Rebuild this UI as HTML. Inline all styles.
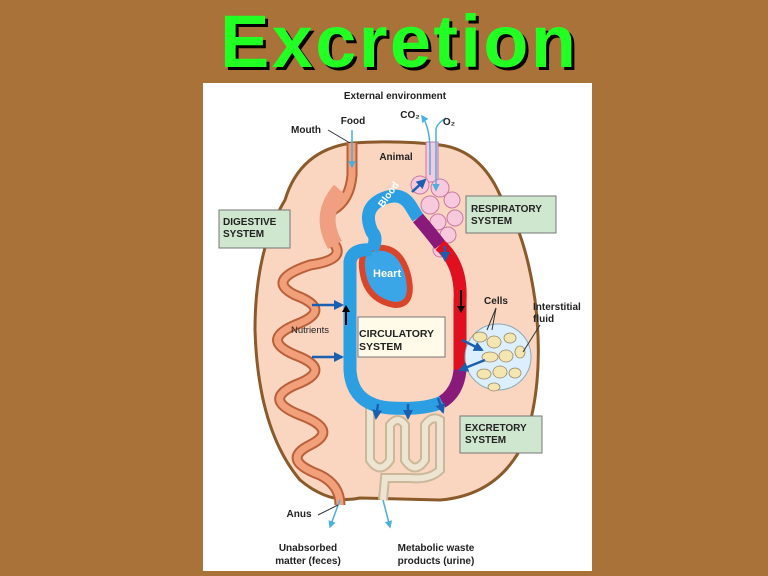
<!DOCTYPE html>
<html><head><meta charset="utf-8"><style>
html,body{margin:0;padding:0;width:768px;height:576px;overflow:hidden;background:#a87238;}
svg{position:absolute;left:0;top:0;}
text{font-family:"Liberation Sans",sans-serif;font-weight:bold;fill:#222;}
</style></head><body>
<svg width="768" height="576" viewBox="0 0 768 576">
<defs><marker id="a" viewBox="0 0 10 10" refX="8" refY="5" markerWidth="4" markerHeight="4" orient="auto"><path d="M0,0 L10,5 L0,10Z" fill="#1a5fb0"/></marker>
<marker id="b" viewBox="0 0 10 10" refX="8" refY="5" markerWidth="5" markerHeight="5" orient="auto"><path d="M0,0 L10,5 L0,10Z" fill="#4ab0e0"/></marker></defs>
<text x="401" y="70" font-size="74" text-anchor="middle" style="fill:#000" textLength="356">Excretion</text>
<text x="398" y="67" font-size="74" text-anchor="middle" style="fill:#22ff22" textLength="356">Excretion</text>
<rect x="203" y="83" width="389" height="488" fill="#fff"/>
<!-- body -->
<path d="M352,143 Q300,150 285,200 Q255,250 255,330 Q258,430 300,480 Q330,505 360,498 L440,500 Q500,495 525,440 Q545,380 535,300 Q525,230 500,195 Q480,150 440,145 Q400,140 352,143 Z" fill="#fad6c0" stroke="#8b5a2b" stroke-width="3"/>
<!-- lungs -->
<g fill="#f8c8dc" stroke="#c87aa0" stroke-width="1">
<rect x="426" y="142" width="12" height="40"/>
<circle cx="420" cy="185" r="9"/><circle cx="440" cy="188" r="9"/><circle cx="452" cy="200" r="8"/><circle cx="455" cy="218" r="8"/><circle cx="448" cy="235" r="8"/><circle cx="440" cy="250" r="7"/><circle cx="430" cy="205" r="9"/><circle cx="438" cy="222" r="8"/>
</g>
<!-- digestive -->
<path d="M352,143 L352,175 Q350,200 333,210 Q318,225 335,245 Q345,260 310,265 Q265,280 295,295 Q335,310 295,325 Q260,340 295,355 Q335,370 295,385 Q262,400 300,415 Q340,430 310,445 Q280,460 320,475 Q340,485 340,505" fill="none" stroke="#b9603a" stroke-width="11"/>
<path d="M352,143 L352,175 Q350,200 333,210 Q318,225 335,245 Q345,260 310,265 Q265,280 295,295 Q335,310 295,325 Q260,340 295,355 Q335,370 295,385 Q262,400 300,415 Q340,430 310,445 Q280,460 320,475 Q340,485 340,505" fill="none" stroke="#f2a07a" stroke-width="7"/>
<path d="M340,190 Q318,215 335,245" stroke="#f0a080" stroke-width="16" fill="none"/>
<!-- excretory tubules -->
<path d="M370,408 L370,460 Q380,475 390,460 L390,425 Q398,415 405,425 L405,460 Q415,475 425,460 L425,425 Q432,415 440,420 L440,470 Q430,480 410,478 L385,478 L383,500" fill="none" stroke="#c9b89a" stroke-width="10"/>
<path d="M370,408 L370,460 Q380,475 390,460 L390,425 Q398,415 405,425 L405,460 Q415,475 425,460 L425,425 Q432,415 440,420 L440,470 Q430,480 410,478 L385,478 L383,500" fill="none" stroke="#eee4d2" stroke-width="6"/>
<!-- heart -->
<path d="M362,268 Q360,250 375,248 Q400,245 408,275 Q415,305 395,305 Q365,300 362,268 Z" fill="#3aa6e8" stroke="#d9452a" stroke-width="6"/>
<!-- circulatory loop -->
<g fill="none" stroke-width="13" stroke-linecap="butt">
<path d="M372,250 Q378,238 372,232 Q362,210 380,200 Q400,190 410,205 L418,218" stroke="#2c9fe3"/>
<path d="M418,218 Q430,232 440,245" stroke="#8a1a7a"/>
<path d="M440,245 Q462,265 460,300 L460,370" stroke="#e01020"/>
<path d="M460,370 Q458,392 442,402" stroke="#8a1a7a"/>
<path d="M442,402 Q425,410 390,408 Q352,405 350,370 L350,262 Q352,248 372,250" stroke="#2c9fe3"/>
</g>
<!-- cells -->
<circle cx="498" cy="357" r="33" fill="#dcefff" stroke="#8ab" stroke-width="1"/>
<g fill="#f4e6b0" stroke="#998866" stroke-width="0.8">
<ellipse cx="480" cy="337" rx="7" ry="5"/><ellipse cx="494" cy="342" rx="7" ry="6"/><ellipse cx="510" cy="338" rx="6" ry="5"/><ellipse cx="490" cy="357" rx="8" ry="5"/><ellipse cx="506" cy="356" rx="7" ry="6"/><ellipse cx="520" cy="352" rx="5" ry="6"/><ellipse cx="484" cy="374" rx="7" ry="5"/><ellipse cx="500" cy="372" rx="7" ry="6"/><ellipse cx="515" cy="373" rx="6" ry="5"/><ellipse cx="494" cy="387" rx="6" ry="4"/>
</g>
<!-- arrows -->
<g stroke="#1a5fb0" stroke-width="2.5" fill="none" marker-end="url(#a)">
<path d="M312,305 L342,305"/><path d="M312,357 L342,357"/><path d="M412,192 L425,180"/><path d="M445,246 L445,260"/><path d="M462,340 L482,350"/><path d="M485,360 L460,370"/><path d="M378,404 L376,418"/><path d="M408,404 L408,418"/><path d="M438,398 L443,412"/>
</g>
<g stroke="#4ab0e0" stroke-width="1.5" fill="none" marker-end="url(#b)">
<path d="M352,130 L352,167"/><path d="M430,175 L430,150 Q430,128 422,116"/><path d="M446,118 Q436,124 436,130 L436,190"/><path d="M340,500 L330,527"/><path d="M383,500 L390,527"/>
</g>
<path d="M346,325 L346,308" stroke="#000" stroke-width="2"/><path d="M342,312 L346,305 L350,312Z" fill="#000"/>
<path d="M461,290 L461,310" stroke="#000" stroke-width="2"/><path d="M457,306 L461,313 L465,306Z" fill="#000"/>
<text x="383" y="208" font-size="10" style="fill:#fff" transform="rotate(-55 383 208)">Blood</text>
<text x="373" y="277" font-size="11" style="fill:#fff">Heart</text>
<!-- boxes -->
<rect x="219" y="210" width="71" height="38" fill="#cfe6cf" stroke="#777"/>
<text x="223" y="225" font-size="10">DIGESTIVE</text><text x="223" y="237" font-size="10">SYSTEM</text>
<rect x="466" y="196" width="90" height="37" fill="#cfe6cf" stroke="#777"/>
<text x="471" y="212" font-size="10">RESPIRATORY</text><text x="471" y="224" font-size="10">SYSTEM</text>
<rect x="460" y="416" width="82" height="37" fill="#cfe6cf" stroke="#777"/>
<text x="465" y="431" font-size="10">EXCRETORY</text><text x="465" y="443" font-size="10">SYSTEM</text>
<rect x="358" y="317" width="87" height="40" fill="#fffbe8" stroke="#777"/>
<text x="359" y="337" font-size="10.5">CIRCULATORY</text><text x="359" y="350" font-size="10.5">SYSTEM</text>
<!-- labels -->
<g font-size="10">
<text x="395" y="99" text-anchor="middle">External environment</text>
<text x="353" y="124" text-anchor="middle">Food</text>
<text x="306" y="133" text-anchor="middle">Mouth</text>
<text x="410" y="118" text-anchor="middle">CO₂</text>
<text x="449" y="125" text-anchor="middle">O₂</text>
<text x="396" y="160" text-anchor="middle">Animal</text>
<text x="496" y="304" text-anchor="middle">Cells</text>
<text x="533" y="310">Interstitial</text><text x="533" y="322">fluid</text>
<text x="299" y="517" text-anchor="middle">Anus</text>
<text x="308" y="551" text-anchor="middle">Unabsorbed</text><text x="308" y="564" text-anchor="middle">matter (feces)</text>
<text x="436" y="551" text-anchor="middle">Metabolic waste</text><text x="436" y="564" text-anchor="middle">products (urine)</text>
</g>
<text x="291" y="333" font-size="9.5" style="font-weight:normal">Nutrients</text>
<g stroke="#333" stroke-width="1" fill="none">
<path d="M328,130 L350,143"/><path d="M318,515 L338,505"/><path d="M496,308 L487,330"/><path d="M496,308 L492,330"/><path d="M540,325 L523,352"/>
</g>
</svg>
</body></html>
